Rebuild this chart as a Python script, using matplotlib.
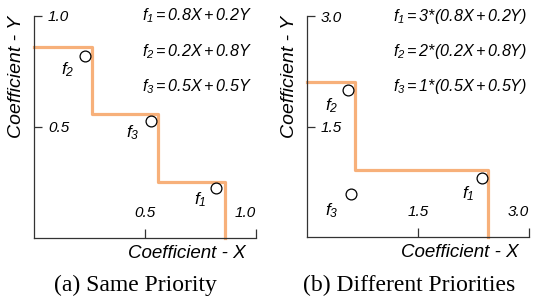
import matplotlib
matplotlib.use("Agg")
from matplotlib import pyplot as plt

plt.rcParams['font.family'] = ['Liberation Sans', 'DejaVu Sans']
plt.rcParams['font.style'] = 'italic'
plt.rcParams['mathtext.fontset'] = 'custom'
plt.rcParams['mathtext.rm'] = 'Liberation Sans:italic'
plt.rcParams['mathtext.it'] = 'Liberation Sans:italic'
plt.rcParams['mathtext.bf'] = 'Liberation Sans:italic'

# staircase corners (post-step)
step_x_a = [0, 0.26, 0.56, 0.86]
step_y_a = [0.86, 0.56, 0.25, 0]
step_x_b = [0, 0.65, 2.45]
step_y_b = [2.11, 0.905, 0]

# f1, f2, f3 points
pt_x_a = [0.82, 0.23, 0.527]
pt_y_a = [0.226, 0.82, 0.527]
pt_x_b = [2.36, 0.55, 0.59]
pt_y_b = [0.80, 2.0, 0.59]

# f label positions
lab_x_a = [0.748, 0.15, 0.446]
lab_y_a = [0.171, 0.757, 0.473]
lab_x_b = [2.18, 0.33, 0.33]
lab_y_b = [0.59, 1.78, 0.36]
f_names = [r'$f_1$', r'$f_2$', r'$f_3$']

eq_a = [r'$f_1 = 0.8X + 0.2Y$', r'$f_2 = 0.2X + 0.8Y$', r'$f_3 = 0.5X + 0.5Y$']
eq_b = [r'$f_1 = 3$*$(0.8X + 0.2Y)$', r'$f_2 = 2$*$(0.2X + 0.8Y)$', r'$f_3 = 1$*$(0.5X + 0.5Y)$']

ticks_a = [0.5, 1.0]
ticks_b = [1.5, 3.0]

line_color = '#f7b07a'
axis_color = '#333333'

fig = plt.figure(figsize=(5.37, 2.97), dpi=100)
ax_a = fig.add_axes([0.0633, 0.1987, 0.4134, 0.7475])
ax_b = fig.add_axes([0.5717, 0.2020, 0.4134, 0.7440])


def draw_panel(ax, sx, sy, px, py, lx, ly, eqs, ticks, lim, eq_x):
    ax.step(sx, sy, where='post', color=line_color, lw=2.3, zorder=2, clip_on=False)
    ax.plot(px, py, 'o', ms=7.8, mfc='white', mec='black', mew=0.9, zorder=3, clip_on=False)
    for i in range(3):
        ax.text(lx[i], ly[i], f_names[i], fontsize=12.5, ha='center', va='center')
    for i in range(3):
        ax.text(eq_x, [1.0, 0.838, 0.68][i], eqs[i], fontsize=11.6, ha='left', va='center',
                transform=ax.transAxes)
    ax.set_xlim(0, lim)
    ax.set_ylim(0, lim)
    ax.spines['top'].set_visible(False)
    ax.spines['right'].set_visible(False)
    for s in ['left', 'bottom']:
        ax.spines[s].set_color(axis_color)
        ax.spines[s].set_linewidth(0.9)
    ax.set_xticks(ticks)
    ax.set_yticks(ticks)
    ax.set_xticklabels(['%.1f' % t for t in ticks])
    ax.set_yticklabels(['%.1f' % t for t in ticks])
    ax.tick_params(axis='x', direction='in', length=6.5, width=0.9, color=axis_color,
                   pad=-13, labelsize=11)
    ax.tick_params(axis='y', direction='in', length=6, width=0.9, color=axis_color,
                   pad=-10, labelsize=11)
    for lab in ax.get_xticklabels():
        lab.set_va('bottom')
    ax.get_xticklabels()[-1].set_ha('right')
    for lab in ax.get_yticklabels():
        lab.set_ha('left')
    ax.set_xlabel('Coefficient - X', fontsize=13.5, ha='right', va='center')
    ax.xaxis.set_label_coords(0.955, -0.072)
    ax.set_ylabel('Coefficient - Y', fontsize=14, ha='center', va='center')
    ax.yaxis.set_label_coords(-0.077, 0.725)
    ax.patch.set_alpha(0)


draw_panel(ax_a, step_x_a, step_y_a, pt_x_a, pt_y_a, lab_x_a, lab_y_a, eq_a, ticks_a, 1.0, 0.486)
draw_panel(ax_b, step_x_b, step_y_b, pt_x_b, pt_y_b, lab_x_b, lab_y_b, eq_b, ticks_b, 3.0, 0.387)

fig.text(135 / 537, 1 - 285 / 297, '(a) Same Priority', family='Liberation Serif', style='normal',
         fontsize=17, ha='center', va='center')
fig.text(409 / 537, 1 - 285 / 297, '(b) Different Priorities', family='Liberation Serif', style='normal',
         fontsize=17, ha='center', va='center')

fig.savefig('out.png', dpi=100)
